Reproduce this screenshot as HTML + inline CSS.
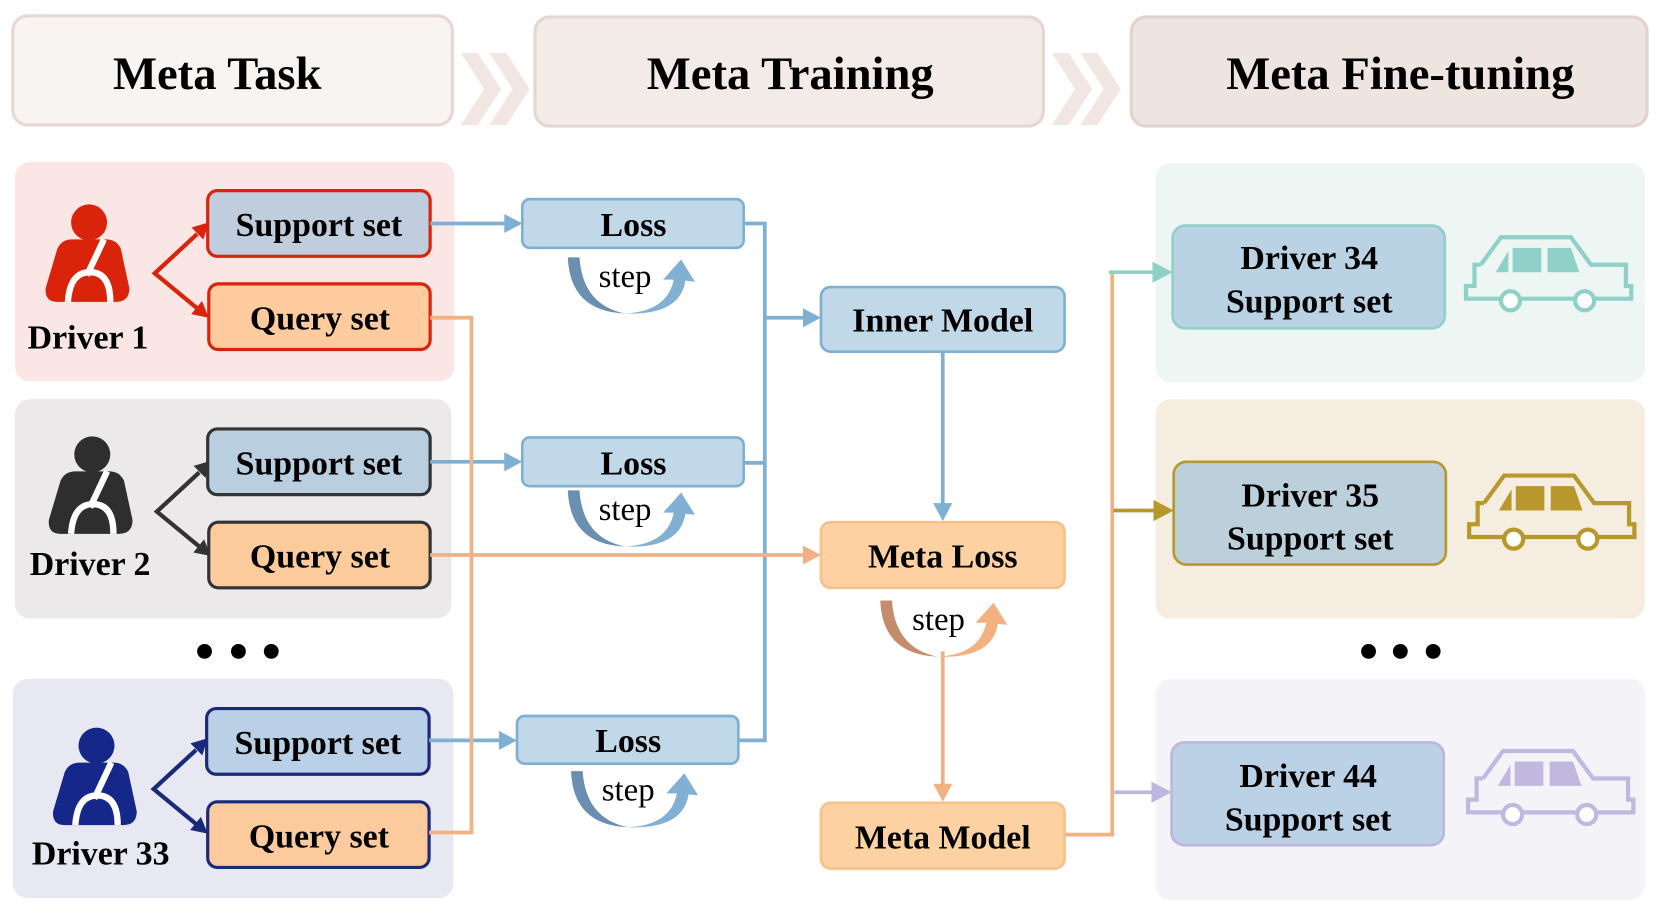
<!DOCTYPE html>
<html><head><meta charset="utf-8"><style>
html,body{margin:0;padding:0;background:#fff;}
svg{display:block;}
text{font-family:"Liberation Serif",serif;}
</style></head><body>
<svg width="1661" height="913" viewBox="0 0 1568 862" xmlns="http://www.w3.org/2000/svg">
<defs>
<g id="car">
<path d="M14,27 L33,1 L99,1 L118,27 L151,27 L151,47 L156,47 L156,59 L121,59 M103,59 L51,59 M33,59 L0,59 L0,47 L8,47 L8,27 L14,27" fill="none" stroke-width="4" stroke-linejoin="miter"/>
<circle cx="42" cy="61" r="9" fill="#fff" stroke-width="4"/>
<circle cx="112" cy="61" r="9" fill="#fff" stroke-width="4"/>
<path d="M28,34 L40,14 L40,34 Z M44,11 L71,11 L71,34 L44,34 Z M77,11 L99,11 L107,34 L77,34 Z" stroke="none"/>
</g>
<g id="person">
<circle cx="0" cy="-22" r="17"/>
<path d="M-30,3 Q-26,-6 -16,-6 L16,-6 Q26,-6 30,3 L38,40 Q38,53 25,53 L-30,53 Q-42,53 -41,40 Z"/>
<path d="M14,-6 L-2,28" stroke="#fff" stroke-width="6"/>
<path d="M-20,53 Q-18,24 2,25 Q20,26 20,53" fill="none" stroke="#fff" stroke-width="6"/>
</g>
<g id="branch">
<path d="M186,221 L146,258 L186,291" fill="none" stroke-width="4"/>
<polygon points="197,210 191.9,226.2 180.7,214.8" stroke="none"/>
<polygon points="197,300 180.4,296.6 190.6,284.2" stroke="none"/>
</g>
</defs>

<rect x="12" y="15" width="415" height="103" rx="14" fill="#f8f4f1" stroke="#e6d8d2" stroke-width="3"/>
<rect x="505" y="16" width="480" height="103" rx="14" fill="#f3ebe7" stroke="#e6d6d0" stroke-width="3"/>
<rect x="1068" y="16" width="487" height="103" rx="14" fill="#eee4e0" stroke="#e2d3ce" stroke-width="3"/>
<g font-size="44" font-weight="bold" text-anchor="middle">
<text x="205" y="84">Meta Task</text>
<text x="746" y="84">Meta Training</text>
<text x="1322" y="84">Meta Fine-tuning</text>
</g>
<g fill="#f1e6e2">
<path d="M435,50 h16 l22,34 l-22,34 h-16 l22,-34z"/><path d="M462,50 h16 l22,34 l-22,34 h-16 l22,-34z"/>
<path d="M993,50 h16 l22,34 l-22,34 h-16 l22,-34z"/><path d="M1020,50 h16 l22,34 l-22,34 h-16 l22,-34z"/>
</g>

<rect x="14" y="153" width="415" height="207" rx="14" fill="#fbe6e6"/>
<rect x="14" y="377" width="412" height="207" rx="14" fill="#ebe9e9"/>
<rect x="12" y="641" width="416" height="207" rx="14" fill="#e8e8f2"/>
<g fill="#000"><circle cx="193" cy="615" r="7"/><circle cx="225" cy="615" r="7"/><circle cx="256" cy="615" r="7"/>
<circle cx="1292" cy="615" r="7"/><circle cx="1322" cy="615" r="7"/><circle cx="1353" cy="615" r="7"/></g>

<use href="#person" x="84" y="232" fill="#d9230b"/>
<use href="#person" x="87" y="451" fill="#2e2e2e"/>
<use href="#person" x="91" y="726" fill="#15288a"/>
<g font-size="32" font-weight="bold" text-anchor="middle">
<text x="83" y="329">Driver 1</text>
<text x="85" y="543">Driver 2</text>
<text x="95" y="816">Driver 33</text>
</g>

<use href="#branch" stroke="#d9230b" fill="#d9230b"/>
<use href="#branch" x="2" y="225" stroke="#333" fill="#333"/>
<use href="#branch" x="-1" y="487" stroke="#1a2a7a" fill="#1a2a7a"/>

<g stroke-width="3">
<rect x="196" y="180" width="210" height="62" rx="9" fill="#bfcddd" stroke="#d9230b"/>
<rect x="197" y="268" width="209" height="62" rx="9" fill="#fdcb9d" stroke="#d9230b"/>
<rect x="196" y="405" width="210" height="62" rx="9" fill="#b9cfe0" stroke="#333"/>
<rect x="197" y="493" width="209" height="62" rx="9" fill="#fbcb9c" stroke="#333"/>
<rect x="195" y="669" width="210" height="62" rx="9" fill="#b9d0e6" stroke="#1a2a7a"/>
<rect x="196" y="757" width="209" height="62" rx="9" fill="#fccb9d" stroke="#1a2a7a"/>
</g>
<g font-size="32" font-weight="bold" text-anchor="middle">
<text x="301" y="223">Support set</text><text x="302" y="311">Query set</text>
<text x="301" y="448">Support set</text><text x="302" y="536">Query set</text>
<text x="300" y="712">Support set</text><text x="301" y="800">Query set</text>
</g>

<rect x="1091" y="154" width="462" height="207" rx="14" fill="#eef6f4"/>
<rect x="1091" y="377" width="462" height="207" rx="14" fill="#f5eee0"/>
<rect x="1091" y="641" width="462" height="209" rx="14" fill="#f3f3f8"/>

<g fill="none" stroke-width="3.5">
<path d="M406,211 H480 M406,436 H480 M405,699 H475" stroke="#7eb0d4"/>
<path d="M702,211 H722 V699 H697 M702,437 H722 M722,300 H762" stroke="#7eb0d4"/>
<path d="M890,332 V478" stroke="#7eb0d4"/>
<path d="M406,300 H445 V786 H405" stroke="#f2b184"/>
<path d="M406,524 H762" stroke="#f2b184"/>
<path d="M890,615 V742" stroke="#f2b184"/>
<path d="M1005,788 H1050 V257" stroke="#f2b184"/>
<path d="M1047,257 H1092" stroke="#8fd0c8"/>
<path d="M1051,482 H1093" stroke="#b8982c"/>
<path d="M1052,748 H1091" stroke="#bdb6de"/>
</g>
<g fill="#7eb0d4">
<polygon points="476,202 493,211 476,220"/>
<polygon points="476,427 493,436 476,445"/>
<polygon points="471,690 488,699 471,708"/>
<polygon points="758,291 775,300 758,309"/>
<polygon points="881,475 890,492 899,475"/>
</g>
<g fill="#f2b184">
<polygon points="758,515 775,524 758,533"/>
<polygon points="881,740 890,757 899,740"/>
</g>
<polygon points="1088,247 1107,257 1088,267" fill="#8fd0c8"/>
<polygon points="1089,472 1108,482 1089,492" fill="#b8982c"/>
<polygon points="1087,738 1106,748 1087,758" fill="#bdb6de"/>

<g stroke="#7eb0d4" stroke-width="2.5" fill="#c0d8e8">
<rect x="493" y="188" width="209" height="46" rx="7"/>
<rect x="493" y="413" width="209" height="46" rx="7"/>
<rect x="488" y="676" width="209" height="45" rx="7"/>
<rect x="775" y="271" width="230" height="61" rx="9"/>
</g>
<g stroke="#f8c08a" stroke-width="2.5" fill="#fdd1a2">
<rect x="775" y="493" width="230" height="62" rx="9"/>
<rect x="775" y="758" width="230" height="62" rx="9"/>
</g>
<g font-size="32" font-weight="bold" text-anchor="middle">
<text x="598" y="223">Loss</text><text x="598" y="448">Loss</text><text x="593" y="710">Loss</text>
<text x="890" y="313">Inner Model</text><text x="890" y="536">Meta Loss</text><text x="890" y="801">Meta Model</text>
</g>

<g id="stepb">
<path d="M536,243 Q538,294 590,296 Q550,288 547,243 Z" fill="#6a8fb0"/>
<path d="M590,296 Q630,294 636,264 L626,264 L643,245 L656,266 L647,265 Q642,298 590,296 Z" fill="#82b0d3"/>
</g>
<use href="#stepb" x="0" y="220"/>
<use href="#stepb" x="3" y="485"/>
<path d="M831,567 Q833,618 885,620 Q845,612 842,567 Z" fill="#c58c6c"/>
<path d="M885,620 Q925,618 931,588 L921,588 L938,569 L951,590 L942,589 Q937,622 885,620 Z" fill="#f3b182"/>
<g font-size="31" text-anchor="middle">
<text x="590" y="271">step</text><text x="590" y="491">step</text><text x="593" y="756">step</text><text x="886" y="595">step</text>
</g>

<rect x="1107" y="213" width="257" height="97" rx="12" fill="#bad3e4" stroke="#8fd0c8" stroke-width="2.5"/>
<rect x="1108" y="436" width="257" height="97" rx="12" fill="#bcd0db" stroke="#b8982c" stroke-width="2.5"/>
<rect x="1106" y="701" width="257" height="97" rx="12" fill="#bad1e6" stroke="#bdb6de" stroke-width="2.5"/>
<g font-size="32" font-weight="bold" text-anchor="middle">
<text x="1236" y="254">Driver 34</text><text x="1236" y="295">Support set</text>
<text x="1237" y="478">Driver 35</text><text x="1237" y="519">Support set</text>
<text x="1235" y="743">Driver 44</text><text x="1235" y="784">Support set</text>
</g>
<use href="#car" x="1384" y="223" stroke="#8fd0c8" fill="#8fd0c8"/>
<use href="#car" x="1387" y="448" stroke="#b8982c" fill="#b8982c"/>
<use href="#car" x="1386" y="708" stroke="#c0b8df" fill="#c0b8df"/>
</svg>
</body></html>
